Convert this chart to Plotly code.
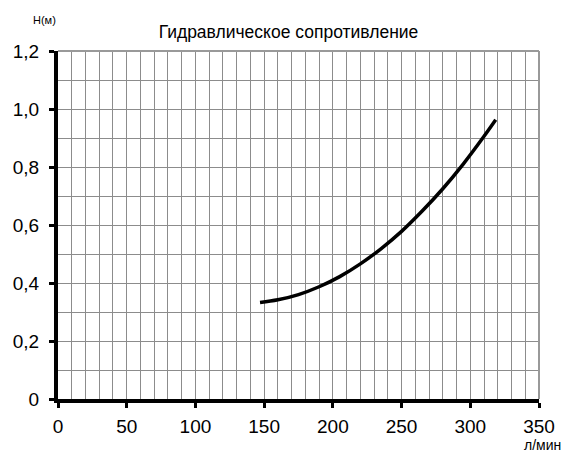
import plotly.graph_objects as go

# Data
flow_lpm = [147, 160, 175, 190, 205, 220, 235, 250, 265, 280, 295, 310, 318.5]
head_m = [0.333, 0.342, 0.360, 0.387, 0.422, 0.466, 0.518, 0.578, 0.648, 0.725, 0.811, 0.906, 0.963]

x_tick_vals = [0, 50, 100, 150, 200, 250, 300, 350]
x_tick_text = ["0", "50", "100", "150", "200", "250", "300", "350"]
y_tick_vals = [0, 0.2, 0.4, 0.6, 0.8, 1.0, 1.2]
y_tick_text = ["0", "0,2", "0,4", "0,6", "0,8", "1,0", "1,2"]

title_text = "Гидравлическое сопротивление"
y_unit = "Н(м)"
x_unit = "л/мин"

FONT = "Liberation Sans, Arial, sans-serif"
GRID = "#8c8c8c"

fig = go.Figure()
fig.add_trace(go.Scatter(
    x=flow_lpm, y=head_m, mode="lines",
    line=dict(color="black", width=3.5, shape="spline"),
    showlegend=False, hoverinfo="skip",
))

fig.update_layout(
    width=564, height=452,
    margin=dict(l=58, r=25, t=51, b=53, autoexpand=False),
    paper_bgcolor="white", plot_bgcolor="white",
    font=dict(family=FONT, color="black"),
    separators=", ",
    title=dict(text=title_text, x=0.5115, xanchor="center", y=0.929, yanchor="middle",
               font=dict(size=17.5, family=FONT, color="black")),
    xaxis=dict(
        range=[0, 350], tickvals=x_tick_vals, ticktext=x_tick_text,
        showgrid=True, gridcolor=GRID, gridwidth=1,
        minor=dict(dtick=10, tick0=0, showgrid=True, gridcolor=GRID, gridwidth=1, ticks=""),
        showline=True, linecolor="black", linewidth=4,
        ticks="outside", ticklen=5, tickwidth=3, tickcolor="black",
        tickfont=dict(size=19, family=FONT), zeroline=False, automargin=False,
        ticklabelstandoff=2,
    ),
    yaxis=dict(
        range=[0, 1.2], tickvals=y_tick_vals, ticktext=y_tick_text,
        showgrid=True, gridcolor=GRID, gridwidth=1,
        minor=dict(dtick=0.1, tick0=0, showgrid=True, gridcolor=GRID, gridwidth=1, ticks=""),
        showline=True, linecolor="black", linewidth=4,
        ticks="outside", ticklen=5, tickwidth=3, tickcolor="black",
        tickfont=dict(size=19, family=FONT), zeroline=False, automargin=False,
        ticklabelstandoff=6,
    ),
    shapes=[
        dict(type="line", xref="paper", yref="paper", x0=0, x1=1, y0=1, y1=1,
             line=dict(color="#999999", width=2)),
        dict(type="line", xref="paper", yref="paper", x0=1, x1=1, y0=0, y1=1,
             line=dict(color="#999999", width=2)),
    ],
    annotations=[
        dict(text=y_unit, xref="paper", yref="paper", x=-0.029, y=1.089, xanchor="center",
             yanchor="middle", showarrow=False, font=dict(size=11, family=FONT)),
        dict(text=x_unit, xref="paper", yref="paper", x=1.05, y=-0.132, xanchor="right",
             yanchor="middle", showarrow=False, font=dict(size=14, family=FONT)),
    ],
)

fig.write_html(
    "out.html",
    config={"displayModeBar": False},
    post_script="document.body.style.margin='0';document.body.style.overflow='hidden';",
)
